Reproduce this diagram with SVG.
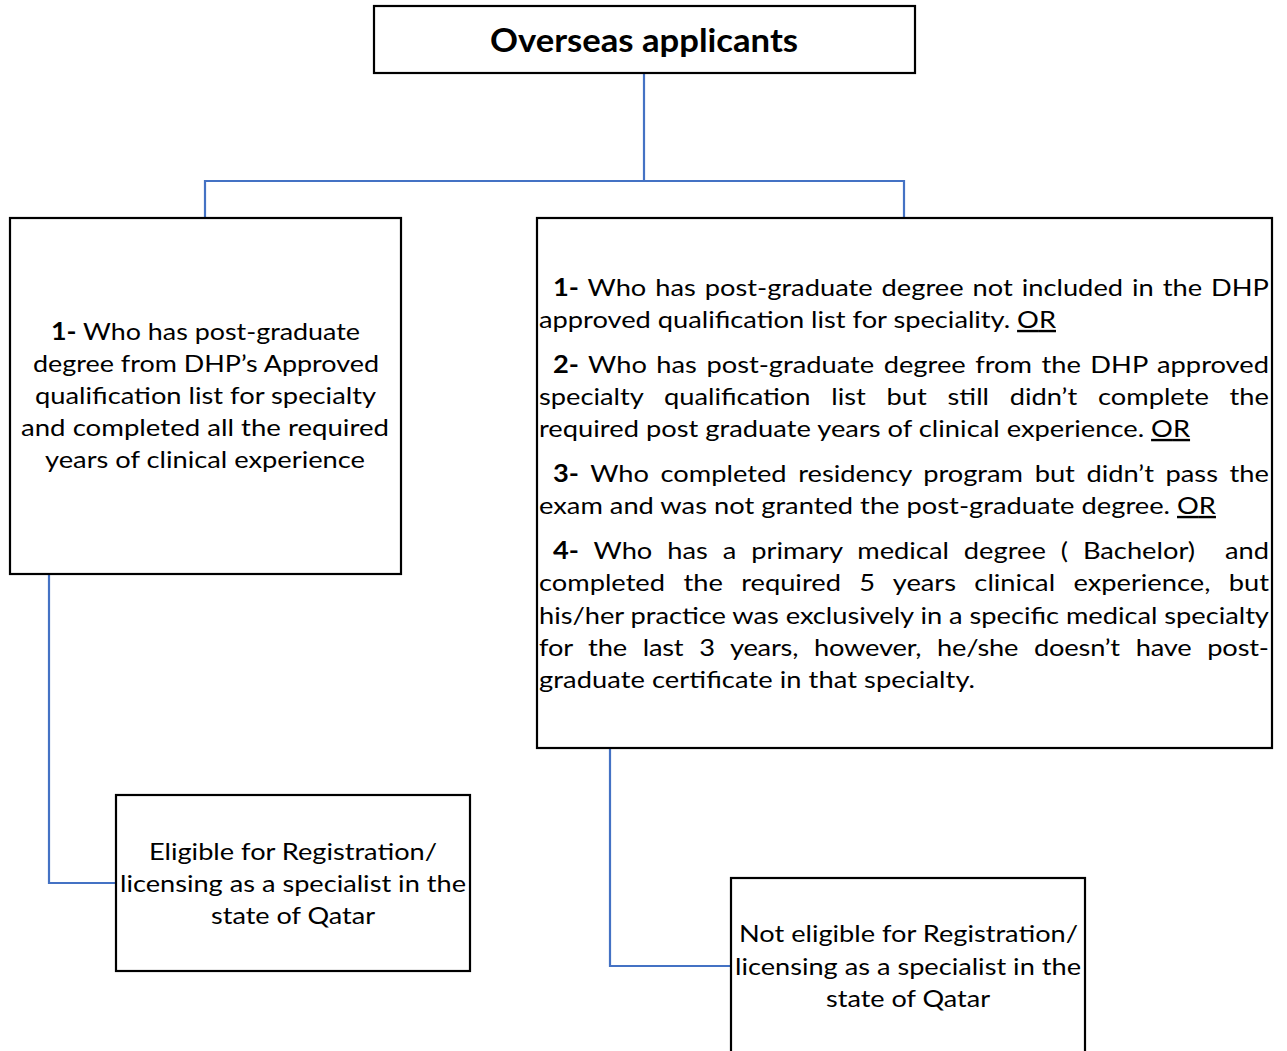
<svg xmlns="http://www.w3.org/2000/svg" width="1287" height="1051" viewBox="0 0 1287 1051">
<style>
.box{fill:#fff;stroke:#000;stroke-width:2.2}
.con{fill:none;stroke:#4472C4;stroke-width:2.2}
text{font-family:Lato,"Liberation Sans",sans-serif;font-size:24px;fill:#000}
.t{font-size:33px;font-weight:bold}
.b{font-weight:bold}
.u{text-decoration:underline}
</style>
<rect width="1287" height="1051" fill="#fff"/>
<g id="connectors">
<path class="con" d="M644 73 V181 M205 218 V181 H904 V218"/>
<path class="con" d="M49 574 V883 H116"/>
<path class="con" d="M610 748 V966 H731"/>
</g>
<g id="n-top">
<rect class="box" x="374" y="6" width="541" height="67"/>
<text class="t" x="490" y="52" textLength="308" lengthAdjust="spacingAndGlyphs">Overseas applicants</text>
</g>
<g id="n-left">
<rect class="box" x="10" y="218" width="391" height="356"/>
<text x="51" y="340" textLength="309" lengthAdjust="spacingAndGlyphs"><tspan class="b">1-</tspan> Who has post-graduate</text>
<text x="33" y="372" textLength="346" lengthAdjust="spacingAndGlyphs">degree from DHP’s Approved</text>
<text x="35" y="404" textLength="341" lengthAdjust="spacingAndGlyphs">qualification list for specialty</text>
<text x="21" y="436" textLength="368" lengthAdjust="spacingAndGlyphs">and completed all the required</text>
<text x="45" y="468" textLength="320" lengthAdjust="spacingAndGlyphs">years of clinical experience</text>
</g>
<g id="n-right">
<rect class="box" x="537" y="218" width="735" height="530"/>
<g transform="translate(539,0) scale(1.137,1)">
<text x="12.3" y="296" word-spacing="1.7" textLength="629.7" lengthAdjust="spacing"><tspan class="b">1-</tspan> Who has post-graduate degree not included in the DHP</text>
<text x="0" y="328" textLength="454.7" lengthAdjust="spacing">approved qualification list for speciality. <tspan class="u">OR</tspan></text>
<text x="12.3" y="373" word-spacing="2.2" textLength="629.7" lengthAdjust="spacing"><tspan class="b">2-</tspan> Who has post-graduate degree from the DHP approved</text>
<text x="0" y="405" word-spacing="12.1" textLength="642" lengthAdjust="spacing">specialty qualification list but still didn’t complete the</text>
<text x="0" y="437" textLength="572.6" lengthAdjust="spacing">required post graduate years of clinical experience. <tspan class="u">OR</tspan></text>
<text x="12.3" y="482" word-spacing="4.1" textLength="629.7" lengthAdjust="spacing"><tspan class="b">3-</tspan> Who completed residency program but didn’t pass the</text>
<text x="0" y="514" textLength="595.4" lengthAdjust="spacing">exam and was not granted the post-graduate degree. <tspan class="u">OR</tspan></text>
<text x="12.3" y="559" xml:space="preserve" word-spacing="7" textLength="629.7" lengthAdjust="spacing"><tspan class="b">4-</tspan> Who has a primary medical degree ( Bachelor)  and</text>
<text x="0" y="591" word-spacing="10" textLength="642" lengthAdjust="spacing">completed the required 5 years clinical experience, but</text>
<text x="0" y="624" textLength="642" lengthAdjust="spacing">his/her practice was exclusively in a specific medical specialty</text>
<text x="0" y="656" word-spacing="7.9" textLength="642" lengthAdjust="spacing">for the last 3 years, however, he/she doesn’t have post-</text>
<text x="0" y="688" textLength="383.5" lengthAdjust="spacing">graduate certificate in that specialty.</text>
</g>
</g>
<g id="n-eligible">
<rect class="box" x="116" y="795" width="354" height="176"/>
<text x="149" y="860" textLength="288" lengthAdjust="spacingAndGlyphs">Eligible for Registration/</text>
<text x="120" y="892" textLength="346" lengthAdjust="spacingAndGlyphs">licensing as a specialist in the</text>
<text x="211" y="924" textLength="164" lengthAdjust="spacingAndGlyphs">state of Qatar</text>
</g>
<g id="n-noteligible">
<rect class="box" x="731" y="878" width="354" height="190"/>
<text x="739" y="942" textLength="339" lengthAdjust="spacingAndGlyphs">Not eligible for Registration/</text>
<text x="735" y="975" textLength="346" lengthAdjust="spacingAndGlyphs">licensing as a specialist in the</text>
<text x="826" y="1007" textLength="164" lengthAdjust="spacingAndGlyphs">state of Qatar</text>
</g>
</svg>
